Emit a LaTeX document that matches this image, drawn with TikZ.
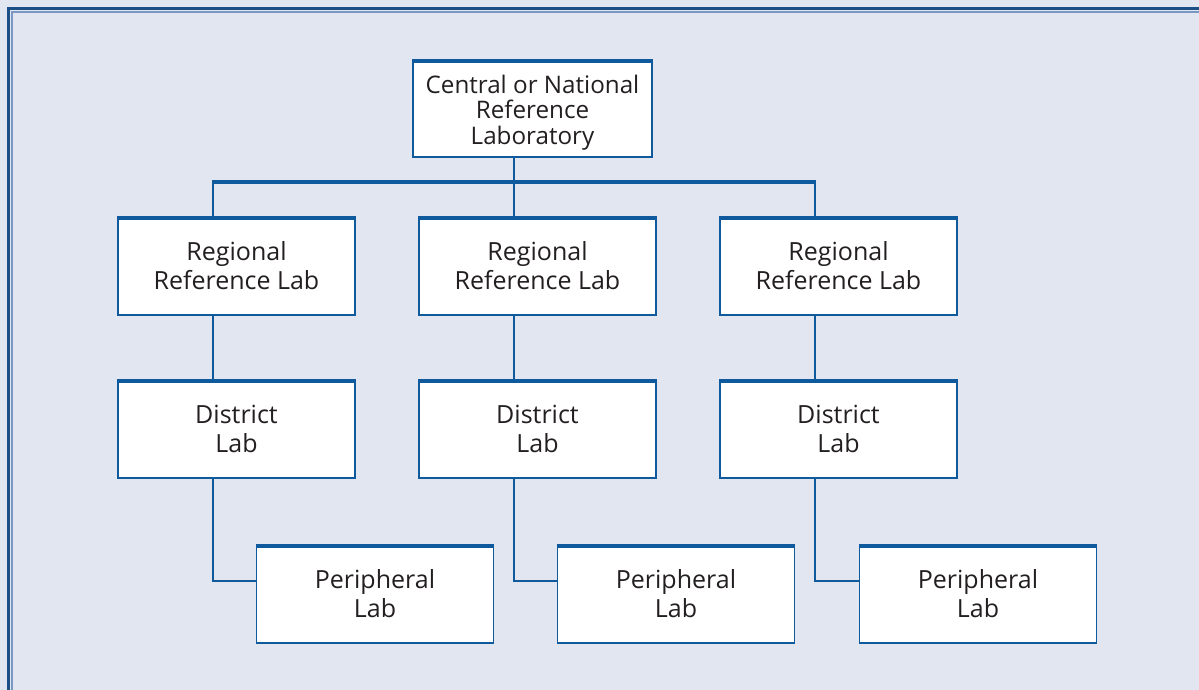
\documentclass[tikz,border=0pt]{standalone}
\usepackage{fontspec}
\setmainfont{Open Sans}
\definecolor{bg}{HTML}{E1E6F0}
\definecolor{frameblue}{HTML}{1B4F86}
\definecolor{framelight}{HTML}{7A98C4}
\definecolor{boxblue}{HTML}{0E5A9C}
\definecolor{txt}{HTML}{231F20}
\begin{document}
\begin{tikzpicture}[x=1pt,y=-1pt,
  box/.style={draw=boxblue, line width=1.3pt, fill=white, minimum width=237pt, minimum height=98pt,
    inner sep=0pt, align=center, text=txt, font=\fontsize{25}{29}\selectfont},
  topbar/.style={draw=boxblue, line width=4pt},
  conn/.style={draw=boxblue, line width=1.4pt},
  bus/.style={draw=boxblue, line width=4pt}
]
\useasboundingbox (0,0) rectangle (1199,690);
\fill[bg] (0,0) rectangle (1199,690);
% frame (top and left edges only visible)
\draw[frameblue, line width=3pt] (8.5,690) -- (8.5,8.5) -- (1199,8.5);
\draw[framelight, line width=1.5pt] (11.8,690) -- (11.8,11.8) -- (1199,11.8);

% nodes
\node[box, minimum width=239pt, minimum height=97pt] (c) at (532.5,108.5) {};
\node[inner sep=0pt, align=center, text=txt, font=\fontsize{24.2}{25.5}\selectfont] (ct) at ([yshift=-4pt]c.center) {Central or National\\Reference\\Laboratory};
\node[box] (r1) at (236.5,266) {Regional\\Reference Lab};
\node[box] (r2) at (537.5,266) {Regional\\Reference Lab};
\node[box] (r3) at (838.5,266) {Regional\\Reference Lab};
\node[box] (d1) at (236.5,429) {District\\Lab};
\node[box] (d2) at (537.5,429) {District\\Lab};
\node[box] (d3) at (838.5,429) {District\\Lab};
\node[box] (p1) at (375,594) {Peripheral\\Lab};
\node[box] (p2) at (676,594) {Peripheral\\Lab};
\node[box] (p3) at (978,594) {Peripheral\\Lab};

\foreach \n in {c,r1,r2,r3,d1,d2,d3,p1,p2,p3}{
  \draw[topbar] ([yshift=-1.35pt]\n.north west) -- ([yshift=-1.35pt]\n.north east);
}

% bus
\coordinate (bl) at (212,181.5);
\coordinate (br) at (816,181.5);
\coordinate (bm) at (514,181.5);
\draw[conn] (c.south -| bm) -- (bm);
\draw[bus] (bl) -- (br);
\draw[conn] (213,181.5) -- (r1.north -| 213,0);
\draw[conn] (bm) -- (r2.north -| bm);
\draw[conn] (815,181.5) -- (r3.north -| 815,0);

% regional to district
\draw[conn] (r1.south -| 213,0) -- (d1.north -| 213,0);
\draw[conn] (r2.south -| 514,0) -- (d2.north -| 514,0);
\draw[conn] (r3.south -| 815,0) -- (d3.north -| 815,0);

% district to peripheral
\draw[conn] (d1.south -| 213,0) |- (p1.west |- 0,581);
\draw[conn] (d2.south -| 514,0) |- (p2.west |- 0,581);
\draw[conn] (d3.south -| 815,0) |- (p3.west |- 0,581);
\end{tikzpicture}
\end{document}
